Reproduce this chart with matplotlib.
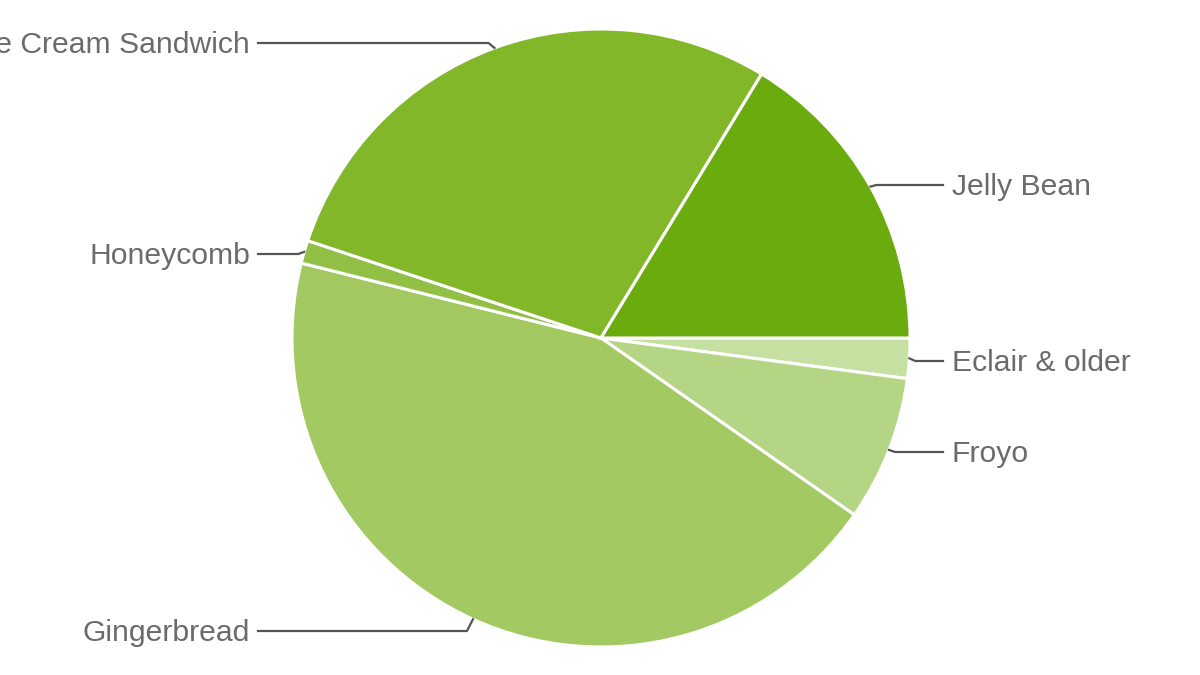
import numpy as np
import matplotlib.pyplot as plt

# Android platform distribution (%)
versions = ['Eclair & older', 'Froyo', 'Gingerbread', 'Honeycomb',
            'Ice Cream Sandwich', 'Jelly Bean']
share = [2.1, 7.6, 44.2, 1.2, 28.6, 16.3]
colors = ['#c6e0a2', '#b3d584', '#a3ca62', '#92bf45', '#82b72a', '#6aab0d']

# label layout (pixel coords, y from top)
label_side = ['right', 'right', 'left', 'left', 'left', 'right']
label_y = [361, 452, 631, 254, 43, 185]

W, H = 1200, 675
cx, cy, r = 601, H - 338, 309

fig = plt.figure(figsize=(12, 6.75), dpi=100)
ax = fig.add_axes([0, 0, 1, 1])
ax.set_xlim(0, W)
ax.set_ylim(0, H)
ax.set_aspect('equal')
ax.axis('off')

wedges, _ = ax.pie(share, colors=colors, startangle=0, counterclock=False,
                   center=(cx, cy), radius=r,
                   wedgeprops=dict(edgecolor='white', linewidth=2.2))
ax.set_xlim(0, W)
ax.set_ylim(0, H)

for w, name, side, ly in zip(wedges, versions, label_side, label_y):
    mid = np.deg2rad((w.theta1 + w.theta2) / 2)
    ax_x = cx + r * np.cos(mid)
    ax_y = cy + r * np.sin(mid)
    y = H - ly
    if side == 'right':
        elbow_x = ax_x + 6
        end_x = 943
        tx, ha = 952, 'left'
    else:
        elbow_x = ax_x - 6
        end_x = 258
        tx, ha = 250, 'right'
    ax.plot([ax_x, elbow_x, end_x], [ax_y, y, y], color='#555555', lw=1.6,
            solid_joinstyle='round')
    ax.text(tx, y - 2, name, ha=ha, va='center', fontsize=21.7,
            family='Liberation Sans', color='#6b6b6b')

fig.savefig('out.png', dpi=100)
